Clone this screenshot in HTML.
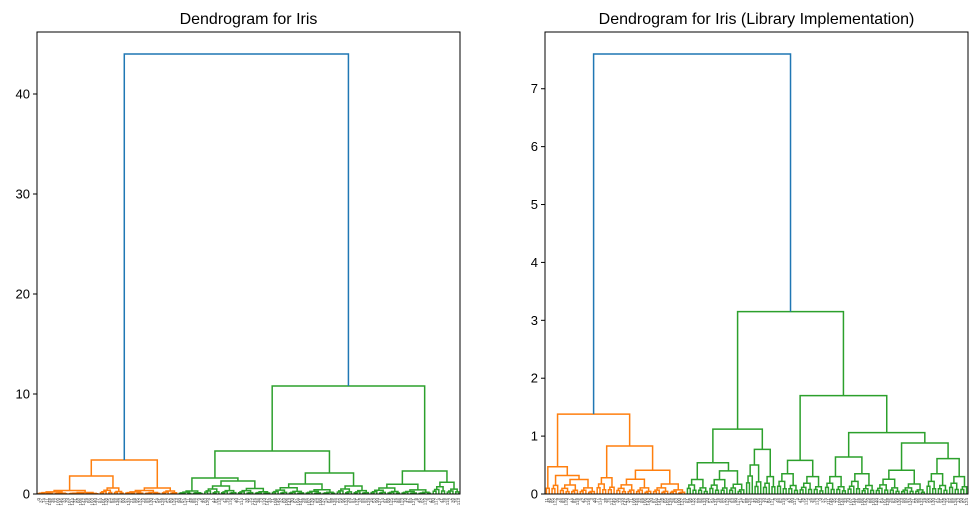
<!DOCTYPE html>
<html><head><meta charset="utf-8">
<style>
html,body{margin:0;padding:0;background:#fff;}
svg{display:block;font-family:"Liberation Sans","DejaVu Sans",sans-serif;}
</style></head>
<body>
<svg id="chart" width="978" height="527" viewBox="0 0 978 527" xmlns="http://www.w3.org/2000/svg">
<rect width="978" height="527" fill="#fff"/>
</svg>
<script>
// ---- data ----
// node: [height, left, right]; clump of leaves: {n: leafCount, h: clumpTopHeight}
const leftTicks = [0, 10, 20, 30, 40];
const rightTicks = [0, 1, 2, 3, 4, 5, 6, 7];
const leftTree = [44,
  [3.4, [1.8, {n:22,h:0.35}, {n:9,h:0.6}], [0.6, {n:13,h:0.35}, {n:6,h:0.3}]],
  [10.8, [4.3, [1.6, {n:9,h:0.3}, {n:24,h:1.3}], [2.1, {n:23,h:1.0}, {n:12,h:0.8}]],
         [2.3, {n:22,h:0.97}, {n:10,h:1.17}]]
];
const rightTree = [7.6,
  [1.38, [0.47, {n:2,h:0.1}, [0.32, {n:3,h:0.15}, {n:13,h:0.25}]],
         [0.83, {n:7,h:0.28}, {n:25,h:0.41}]],
  [3.15, [1.12, [0.54, {n:8,h:0.25}, {n:13,h:0.4}], [0.77, {n:6,h:0.5}, {n:5,h:0.3}]],
         [1.70, [0.58, {n:8,h:0.35}, {n:9,h:0.3}],
                [1.06, [0.64, {n:8,h:0.3}, {n:10,h:0.35}],
                       [0.88, {n:18,h:0.41}, [0.61, {n:8,h:0.35}, {n:7,h:0.3}]]]]]
];
const titles = ["Dendrogram for Iris", "Dendrogram for Iris (Library Implementation)"];
const clumpRatios = [0.62, 0.42];

const NS = "http://www.w3.org/2000/svg";
const svg = document.getElementById('chart');
function mk(tag, attrs, parent){
  const e = document.createElementNS(NS, tag);
  for (const k in attrs) e.setAttribute(k, attrs[k]);
  (parent||svg).appendChild(e);
  return e;
}

function drawPanel(tree, ticks, title, x0, x1, idx){
  const y0 = 32, yb = 494;
  const ymax = tree[0] * 1.05;
  const yS = v => yb - v / ymax * (yb - y0);
  const nLeaves = 150;
  const xS = i => x0 + (i + 0.5) * (x1 - x0) / nLeaves;
  const g = mk('g', {});
  
  
  let leafCounter = 0;
  function link(xa, ha, xb, hb, h, color){
    const p = mk('path', {d:`M${xa},${yS(ha)}V${yS(h)}H${xb}V${yS(hb)}`, fill:'none', stroke:color, 'stroke-width':1.5}, g);
    
    
  }
  function drawClump(n, h, color){
    if (n <= 1){ const x = xS(leafCounter); leafCounter++; return {x:x, h:0}; }
    const a = Math.ceil(n/2), b = n - a;
    const l = drawClump(a, a>1 ? h*clumpRatios[0] : 0, color);
    const r = drawClump(b, b>1 ? h*clumpRatios[1] : 0, color);
    link(l.x, l.h, r.x, r.h, h, color);
    return {x:(l.x+r.x)/2, h:h};
  }
  function drawNode(node, color){
    if (!Array.isArray(node)) return drawClump(node.n, node.h, color);
    const l = drawNode(node[1], color);
    const r = drawNode(node[2], color);
    link(l.x, l.h, r.x, r.h, node[0], color);
    return {x:(l.x+r.x)/2, h:node[0]};
  }
  const lo = drawNode(tree[1], '#ff7f0e');
  const ro = drawNode(tree[2], '#2ca02c');
  link(lo.x, lo.h, ro.x, ro.h, tree[0], '#1f77b4');

  for (let i = 0; i < nLeaves; i++){
    const t = mk('text', {x:0, y:0, 'font-size':4.5, fill:'#444', transform:`translate(${xS(i)+1.5},${yb+4}) rotate(-90)`, 'text-anchor':'end'}, g);
    
    
    t.textContent = String((i*37+idx*11) % 150);
  }
  const f = mk('rect', {x:x0, y:y0, width:x1-x0, height:yb-y0, fill:'none', stroke:'#000', 'stroke-width':1}, g);
  
  
  ticks.forEach(v => {
    const y = yS(v);
    const tl = mk('line', {x1:x0-4, x2:x0, y1:y, y2:y, stroke:'#000', 'stroke-width':1}, g);
    
    
    const tx = mk('text', {x:x0-7, y:y+4.5, 'font-size':13, 'text-anchor':'end', fill:'#000'}, g);
    
    
    tx.textContent = v;
  });
  const tt = mk('text', {x:(x0+x1)/2, y:24, 'font-size':16, 'text-anchor':'middle', fill:'#000'}, g);
  
  
  tt.textContent = title;
}
drawPanel(leftTree, leftTicks, titles[0], 37, 460, 0);
drawPanel(rightTree, rightTicks, titles[1], 545, 968, 1);
</script>
</body></html>
